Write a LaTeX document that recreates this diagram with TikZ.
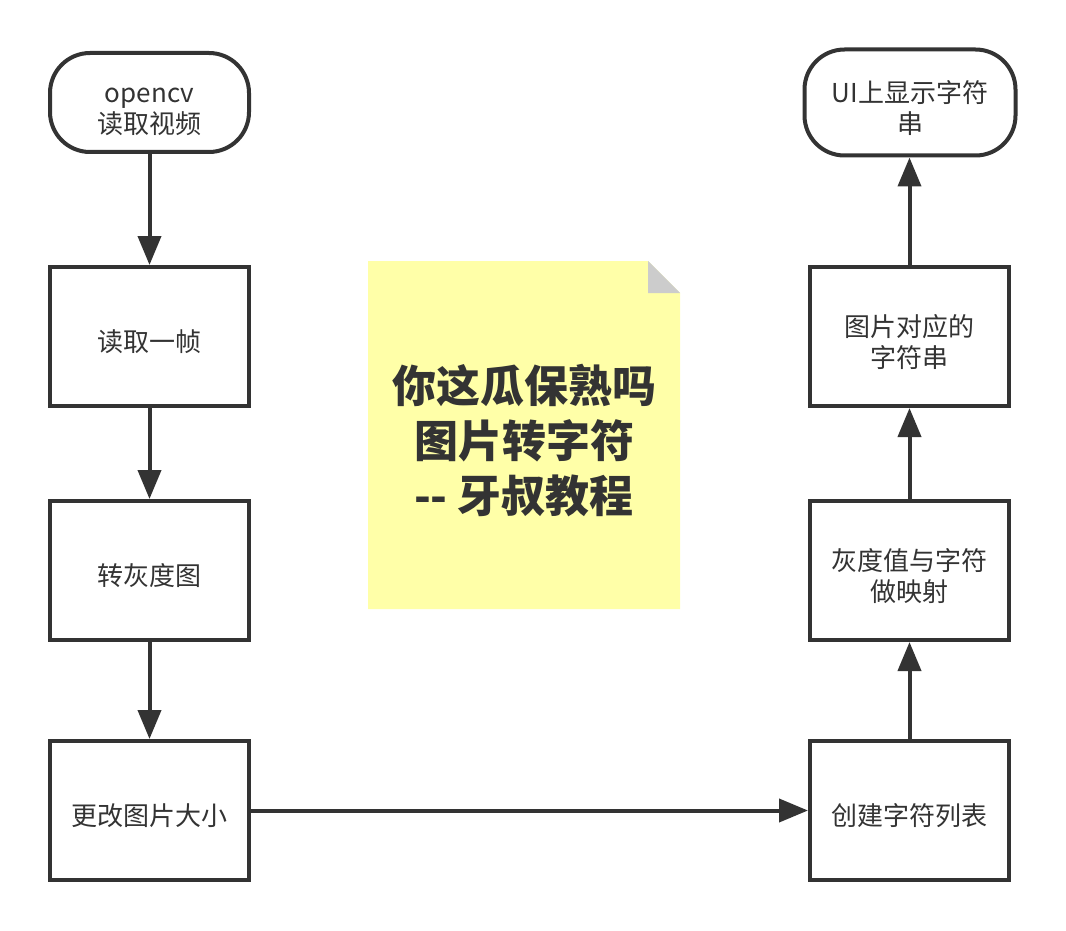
\documentclass[tikz,border=0pt]{standalone}
\usepackage{fontspec}
\usetikzlibrary{arrows.meta}
\newfontfamily\cjk{Noto Sans CJK SC}
\definecolor{ink}{HTML}{333333}
\definecolor{notey}{HTML}{FFFFA8}
\definecolor{foldg}{HTML}{CCCCCC}
\newcommand{\lbl}[1]{\raisebox{-9pt}[\height][\depth]{\begin{tabular}{@{}c@{}}#1\end{tabular}}}
\tikzset{
  stepbox/.style={draw=ink, line width=4pt, fill=white, minimum width=199pt, minimum height=139pt, inner sep=0pt, align=center, text=ink, font=\cjk\fontsize{26}{31.5}\selectfont},
  termbox/.style={stepbox, rounded corners=40pt},
  conn/.style={draw=ink, line width=4pt, -{Triangle[length=29pt,width=23pt]}},
}
\begin{document}
\begin{tikzpicture}[x=1pt,y=-1pt]
\fill[white] (0,0) rectangle (1066,931);
\useasboundingbox (0,0) rectangle (1066,931);
% note
\fill[notey] (368,261) -- (648,261) -- (680,293) -- (680,609) -- (368,609) -- cycle;
\fill[foldg] (648,261) -- (648,293) -- (680,293) -- cycle;
\node[align=center, text=ink, font=\cjk\bfseries\fontsize{44}{55}\selectfont, inner sep=0pt] (title) at (524,441) {你这瓜保熟吗\\图片转字符\\-- 牙叔教程};
% left column
\node[termbox, minimum height=99pt] (start) at (149.5,102.5) {\lbl{opencv\\读取视频}};
\node[stepbox] (read) at (149.5,336.5) {\lbl{读取一帧}};
\node[stepbox] (gray) at (149.5,570.5) {\lbl{转灰度图}};
\node[stepbox] (resize) at (149.5,810.5) {\lbl{更改图片大小}};
% right column
\node[termbox, minimum width=211pt, minimum height=106pt] (show) at (910,102.5) {\lbl{UI上显示字符\\串}};
\node[stepbox] (str) at (909.5,336.5) {\lbl{图片对应的\\字符串}};
\node[stepbox] (map) at (909.5,570.5) {\lbl{灰度值与字符\\做映射}};
\node[stepbox] (list) at (909.5,810.5) {\lbl{创建字符列表}};
% connectors
\draw[conn] (start) -- (read);
\draw[conn] (read) -- (gray);
\draw[conn] (gray) -- (resize);
\draw[conn] (resize) -- (list);
\draw[conn] (list) -- (map);
\draw[conn] (map) -- (str);
\draw[conn] (str.north) -- (str.north |- show.south);
\end{tikzpicture}
\end{document}
